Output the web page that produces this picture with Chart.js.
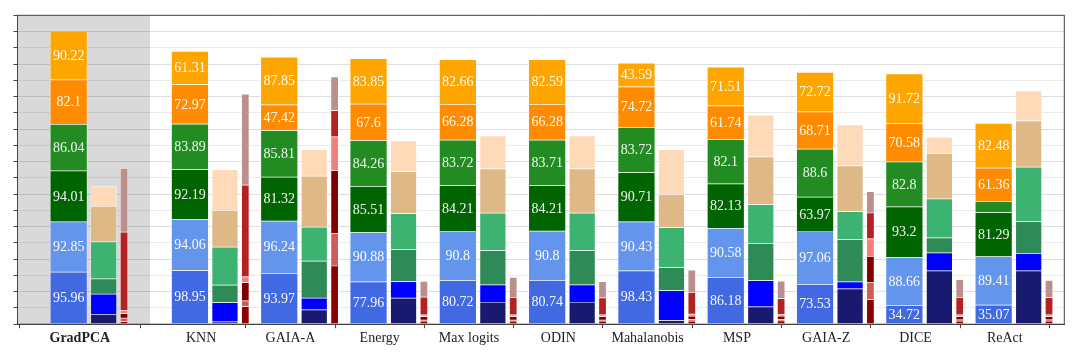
<!DOCTYPE html>
<html>
<head>
<meta charset="utf-8">
<script src="https://cdn.jsdelivr.net/npm/chart.js@4.4.1/dist/chart.umd.min.js"></script>
<style>
  html, body { margin: 0; padding: 0; background: #fff; }
  #wrap { width: 1080px; height: 360px; }
</style>
</head>
<body>
<div id="wrap"><canvas id="chart"></canvas></div>
<script>
// methods along the x axis
const methods = ["GradPCA", "KNN", "GAIA-A", "Energy", "Max logits", "ODIN",
                 "Mahalanobis", "MSP", "GAIA-Z", "DICE", "ReAct"];

// main (labelled) bar, bottom -> top
const mainS1 = [95.96, 98.95, 93.97, 77.96, 80.72, 80.74, 98.43, 86.18, 73.53, 34.72, 35.07];
const mainS2 = [92.85, 94.06, 96.24, 90.88, 90.8, 90.8, 90.43, 90.58, 97.06, 88.66, 89.41];
const mainS3 = [94.01, 92.19, 81.32, 85.51, 84.21, 84.21, 90.71, 82.13, 63.97, 93.2, 81.29];
const mainS4 = [86.04, 83.89, 85.81, 84.26, 83.72, 83.71, 83.72, 82.1, 88.6, 82.8, 21.0];
const mainS5 = [82.1, 72.97, 47.42, 67.6, 66.28, 66.28, 74.72, 61.74, 68.71, 70.58, 61.36];
const mainS6 = [90.22, 61.31, 87.85, 83.85, 82.66, 82.59, 43.59, 71.51, 72.72, 91.72, 82.48];

// second (unlabelled) bar, bottom -> top
const midS1 = [17.9, 4.2, 26.4, 47.9, 40.5, 40.5, 6.8, 32.0, 65.2, 98.4, 98.4];
const midS2 = [37.4, 35.7, 21.5, 30.8, 32.0, 32.0, 55.3, 48.5, 12.9, 33.2, 32.4];
const midS3 = [28.4, 32.4, 68.7, 59.0, 63.2, 63.2, 42.4, 68.7, 77.9, 27.6, 58.4];
const midS4 = [68.2, 70.0, 62.6, 66.3, 69.4, 69.4, 73.7, 71.3, 51.6, 71.9, 100.8];
const midS5 = [65.6, 67.6, 94.0, 77.4, 81.6, 81.6, 61.4, 88.4, 84.7, 84.0, 85.3];
const midS6 = [36.8, 75.5, 49.1, 57.1, 60.8, 60.8, 82.3, 76.8, 75.5, 30.2, 55.3];

// thin red bar, bottom -> top
const redS1 = [4.9, 32.6, 107.4, 5.5, 5.5, 5.5, 5.5, 6.0, 45.5, 5.5, 5.5];
const redS2 = [6.1, 10.4, 59.7, 1.8, 1.8, 1.8, 2.8, 2.4, 31.3, 2.4, 2.4];
const redS3 = [8.6, 33.8, 116.1, 6.6, 6.6, 6.6, 6.4, 6.4, 48.5, 6.0, 6.0];
const redS4 = [6.1, 10.4, 62.6, 3.1, 3.1, 3.1, 3.7, 3.1, 32.0, 3.1, 3.1];
const redS5 = [144.3, 169.5, 48.5, 33.0, 32.6, 31.5, 40.5, 29.5, 47.9, 32.6, 31.9];
const redS6 = [117.3, 167.7, 62.1, 29.0, 36.8, 30.0, 41.1, 31.9, 39.2, 32.6, 32.0];

const mainColors = ["#4169E1", "#6495ED", "#006400", "#228B22", "#FF8C00", "#FFA500"];
const midColors = ["#191970", "#0000FF", "#2E8B57", "#3CB371", "#DEB887", "#FFDAB9"];
const redColors = ["#8B0000", "#CD5C5C", "#800000", "#F08080", "#B22222", "#BC8F8F"];

// x layout (in axis units, one unit = one method slot)
const xPos = methods.map((m, i) => i === 0 ? 0 : 1.358 + (i - 1));
const tickShift = 0.125;
const midShift = 0.392;
const redShift = 0.62;

const datasets = [];
function addBar(series, colors, shift, width, stack) {
    series.forEach((vals, k) => {
        datasets.push({
            label: stack + k,
            stack: stack,
            grouped: false,
            barThickness: width,
            backgroundColor: colors[k],
            borderColor: "rgba(255,255,255,0.55)",
            borderWidth: 0.7,
            borderSkipped: false,
            data: vals.map((v, i) => ({ x: xPos[i] + shift, y: v }))
        });
    });
}
addBar([mainS1, mainS2, mainS3, mainS4, mainS5, mainS6], mainColors, 0, 37, "main");
addBar([midS1, midS2, midS3, midS4, midS5, midS6], midColors, midShift, 26, "mid");
addBar([redS1, redS2, redS3, redS4, redS5, redS6], redColors, redShift, 7.5, "red");

// grey band behind the first method
const bandPlugin = {
    id: "band",
    beforeDraw(chart) {
        const { ctx, chartArea, scales } = chart;
        const right = scales.x.getPixelForValue(0.91);
        ctx.save();
        ctx.fillStyle = "#d9d9d9";
        ctx.fillRect(chartArea.left, chartArea.top, right - chartArea.left, chartArea.bottom - chartArea.top);
        ctx.restore();
    }
};

// numbers written inside the main bar
const labelPlugin = {
    id: "values",
    afterDatasetsDraw(chart) {
        const ctx = chart.ctx;
        ctx.save();
        ctx.font = "14px 'Liberation Serif', serif";
        ctx.fillStyle = "rgba(255,255,255,0.95)";
        ctx.textAlign = "center";
        ctx.textBaseline = "middle";
        chart.data.datasets.forEach((ds, di) => {
            if (ds.stack !== "main") return;
            chart.getDatasetMeta(di).data.forEach((el, i) => {
                const v = ds.data[i].y;
                if (v < 25) return;
                ctx.fillText(String(v), el.x, (el.y + el.base) / 2 + 0.5);
            });
        });
        ctx.restore();
    }
};

// top and right frame lines
const framePlugin = {
    id: "frame",
    afterDraw(chart) {
        const { ctx, chartArea } = chart;
        ctx.save();
        ctx.strokeStyle = "#444";
        ctx.lineWidth = 1;
        ctx.strokeRect(chartArea.left, chartArea.top, chartArea.right - chartArea.left, chartArea.bottom - chartArea.top);
        ctx.restore();
    }
};

new Chart(document.getElementById("chart"), {
    type: "bar",
    data: { datasets: datasets },
    options: {
        responsive: true,
        maintainAspectRatio: false,
        animation: false,
        layout: { padding: { left: 13.5, right: 15.7, top: 15.3, bottom: 11 } },
        plugins: { legend: { display: false }, tooltip: { enabled: false } },
        scales: {
            x: {
                type: "linear",
                min: -0.573,
                max: 11.149,
                offset: false,
                afterBuildTicks: axis => {
                    axis.ticks = xPos.map(p => ({ value: p + tickShift }));
                },
                ticks: {
                    autoSkip: false,
                    maxRotation: 0,
                    padding: 2,
                    color: "#222",
                    font: c => ({ family: "'Liberation Serif', serif", size: 14, weight: c.index === 0 ? "bold" : "normal" }),
                    callback: (v, i) => methods[i]
                },
                grid: { drawOnChartArea: false, drawTicks: true, tickLength: 4, tickColor: "#444" },
                border: { color: "#444", width: 1 }
            },
            y: {
                stacked: true,
                min: 0,
                max: 570,
                ticks: { stepSize: 30, display: false },
                grid: {
                    color: c => (c.tick && c.tick.value % 60 === 0) ? "rgba(0,0,0,0.13)" : "rgba(0,0,0,0.08)",
                    lineWidth: 1,
                    tickLength: 4,
                    tickColor: "#444"
                },
                border: { color: "#444", width: 1 }
            }
        }
    },
    plugins: [bandPlugin, labelPlugin, framePlugin]
});
</script>
</body>
</html>
